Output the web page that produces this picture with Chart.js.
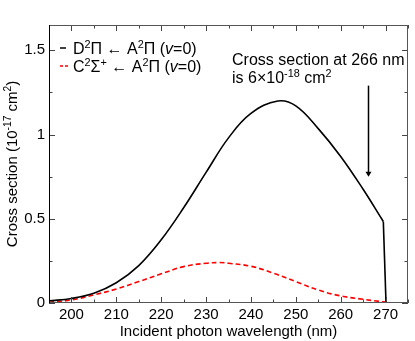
<!DOCTYPE html>
<html>
<head>
<meta charset="utf-8">
<script src="https://cdn.jsdelivr.net/npm/chart.js@4.4.0/dist/chart.umd.min.js"></script>
<style>
  html, body { margin: 0; padding: 0; background: #fff; }
  #wrap { width: 415px; height: 341px; }
</style>
</head>
<body>
<div id="wrap"><canvas id="chart"></canvas></div>
<script>
// wavelengths (nm) and cross sections (10^-17 cm^2)
const wavelengthD = [195, 200, 205, 210, 215, 220, 225, 230, 235, 240, 246, 250, 255, 260, 265, 269.5];
const crossD = [0.013, 0.027, 0.058, 0.12, 0.222, 0.375, 0.565, 0.775, 0.98, 1.125, 1.199, 1.17, 1.035, 0.87, 0.675, 0.484];
// sharp cut-off at the long wavelength end
const wavelengthDEdge = [269.5, 270.1];
const crossDEdge = [0.484, 0];

const wavelengthC = [195, 200, 205, 210, 215, 220, 225, 230, 233, 235, 240, 245, 250, 255, 260, 265, 270];
const crossC = [0.004, 0.018, 0.048, 0.083, 0.127, 0.173, 0.216, 0.236, 0.24, 0.236, 0.218, 0.177, 0.127, 0.077, 0.042, 0.022, 0.005];

const xMajorTicks = [200, 210, 220, 230, 240, 250, 260, 270];
const yTickLabels = { 0: '0', 0.5: '0.5', 1: '1', 1.5: '1.5' };

// arrow annotation: wavelength and top/tip heights
const arrowNm = 266;
const arrowFrom = 1.29;
const arrowTo = 0.75;

const FONT = '"Liberation Sans", Arial, sans-serif';

function toPoints(xs, ys) {
    return xs.map((x, i) => ({ x: x, y: ys[i] }));
}

// draws a line of text with superscripts / italics
function drawRuns(ctx, runs, x, y, size) {
    let cx = x;
    runs.forEach(r => {
        const s = r.sup ? size * 0.68 : size;
        ctx.font = (r.it ? 'italic ' : '') + s + 'px ' + FONT;
        ctx.fillText(r.t, cx, r.sup ? y - size * 0.38 : y);
        cx += ctx.measureText(r.t).width;
    });
    return cx;
}

function runsWidth(ctx, runs, size) {
    let w = 0;
    runs.forEach(r => {
        const s = r.sup ? size * 0.68 : size;
        ctx.font = (r.it ? 'italic ' : '') + s + 'px ' + FONT;
        w += ctx.measureText(r.t).width;
    });
    return w;
}

const extras = {
    id: 'extras',
    afterDraw(chart) {
        const ctx = chart.ctx;
        const xs = chart.scales.x, ys = chart.scales.y;
        const a = chart.chartArea;
        ctx.save();

        // inward ticks on all four sides
        ctx.strokeStyle = '#444';
        ctx.lineWidth = 1;
        ctx.beginPath();
        for (let v = 195; v <= 275; v += 5) {
            const px = Math.round(xs.getPixelForValue(v)) + 0.5;
            const len = (v % 10 === 0) ? 6 : 3.5;
            ctx.moveTo(px, a.bottom); ctx.lineTo(px, a.bottom - len);
            ctx.moveTo(px, a.top); ctx.lineTo(px, a.top + len);
        }
        for (let v = 0; v <= 1.5001; v += 0.25) {
            const py = Math.round(ys.getPixelForValue(v)) + 0.5;
            const len = (Math.abs(v * 2 - Math.round(v * 2)) < 1e-6) ? 6 : 3.5;
            ctx.moveTo(a.left, py); ctx.lineTo(a.left + len, py);
            ctx.moveTo(a.right, py); ctx.lineTo(a.right - len, py);
        }
        ctx.stroke();

        // frame
        ctx.strokeStyle = '#555';
        ctx.strokeRect(a.left + 0.5, a.top + 0.5, a.right - a.left - 1, a.bottom - a.top - 1);
        ctx.strokeStyle = '#000';
        ctx.beginPath();
        ctx.moveTo(a.left + 0.5, a.top); ctx.lineTo(a.left + 0.5, a.bottom);
        ctx.stroke();

        // y axis title with superscripts, rotated
        ctx.fillStyle = '#000';
        const yTitle = [{ t: 'Cross section (10' }, { t: '-17', sup: true }, { t: ' cm' }, { t: '2', sup: true }, { t: ')' }];
        const tw = runsWidth(ctx, yTitle, 15);
        ctx.save();
        ctx.translate(17, (a.top + a.bottom) / 2 + tw / 2);
        ctx.rotate(-Math.PI / 2);
        drawRuns(ctx, yTitle, 0, 0, 15);
        ctx.restore();

        // arrow
        const ax = Math.round(xs.getPixelForValue(arrowNm)) + 0.5;
        const ay1 = ys.getPixelForValue(arrowFrom);
        const ay2 = ys.getPixelForValue(arrowTo);
        ctx.strokeStyle = '#000';
        ctx.lineWidth = 1.5;
        ctx.beginPath();
        ctx.moveTo(ax, ay1); ctx.lineTo(ax, ay2 - 4);
        ctx.stroke();
        ctx.fillStyle = '#000';
        ctx.beginPath();
        ctx.moveTo(ax - 3, ay2 - 5); ctx.lineTo(ax + 3, ay2 - 5); ctx.lineTo(ax, ay2);
        ctx.closePath(); ctx.fill();

        // annotation text
        ctx.textBaseline = 'alphabetic';
        ctx.textAlign = 'left';
        drawRuns(ctx, [{ t: 'Cross section at 266 nm' }], 232, 65, 16);
        drawRuns(ctx, [{ t: 'is 6×10' }, { t: '-18', sup: true }, { t: ' cm' }, { t: '2', sup: true }], 232, 83, 16);

        // legend
        ctx.strokeStyle = '#000';
        ctx.lineWidth = 1.5;
        ctx.beginPath(); ctx.moveTo(60, 48); ctx.lineTo(66, 48); ctx.stroke();
        drawRuns(ctx, [{ t: 'D' }, { t: '2', sup: true }, { t: 'Π ← A' }, { t: '2', sup: true },
            { t: 'Π (' }, { t: 'v', it: true }, { t: '=0)' }], 73, 54, 16);

        ctx.strokeStyle = '#f00';
        ctx.setLineDash([3, 2]);
        ctx.beginPath(); ctx.moveTo(60, 66); ctx.lineTo(68, 66); ctx.stroke();
        ctx.setLineDash([]);
        ctx.fillStyle = '#000';
        drawRuns(ctx, [{ t: 'C' }, { t: '2', sup: true }, { t: 'Σ' }, { t: '+', sup: true }, { t: ' ← A' }, { t: '2', sup: true },
            { t: 'Π (' }, { t: 'v', it: true }, { t: '=0)' }], 73, 72, 16);

        ctx.restore();
    }
};

new Chart(document.getElementById('chart'), {
    type: 'scatter',
    data: {
        datasets: [
            {
                label: 'D2Π ← A2Π (v=0)',
                data: toPoints(wavelengthD, crossD),
                showLine: true,
                borderColor: '#000',
                borderWidth: 1.6,
                pointRadius: 0,
                tension: 0.4
            },
            {
                label: 'D2Π edge',
                data: toPoints(wavelengthDEdge, crossDEdge),
                showLine: true,
                borderColor: '#000',
                borderWidth: 1.6,
                pointRadius: 0,
                tension: 0
            },
            {
                label: 'C2Σ+ ← A2Π (v=0)',
                data: toPoints(wavelengthC, crossC),
                showLine: true,
                borderColor: '#f00',
                borderWidth: 1.6,
                borderDash: [5, 3],
                pointRadius: 0,
                tension: 0.4
            }
        ]
    },
    options: {
        responsive: true,
        maintainAspectRatio: false,
        animation: false,
        layout: { padding: { top: 25, right: 7, left: 0, bottom: 0 } },
        plugins: { legend: { display: false }, tooltip: { enabled: false } },
        scales: {
            x: {
                type: 'linear',
                min: 195,
                max: 275,
                afterFit(scale) { scale.height = 38; },
                afterBuildTicks(scale) { scale.ticks = xMajorTicks.map(v => ({ value: v })); },
                grid: { display: false, drawTicks: false },
                border: { display: false },
                ticks: { color: '#000', font: { family: FONT, size: 15 }, padding: 3, maxRotation: 0 },
                title: { display: true, text: 'Incident photon wavelength (nm)', color: '#000', font: { family: FONT, size: 15 }, padding: 0 }
            },
            y: {
                min: 0,
                max: 1.65,
                afterFit(scale) { scale.width = 49; },
                afterBuildTicks(scale) { scale.ticks = Object.keys(yTickLabels).map(v => ({ value: Number(v) })); },
                grid: { display: false, drawTicks: false },
                border: { display: false },
                ticks: { color: '#000', font: { family: FONT, size: 15 }, padding: 4, callback: v => yTickLabels[v] },
                title: { display: false }
            }
        }
    },
    plugins: [extras]
});
</script>
</body>
</html>
